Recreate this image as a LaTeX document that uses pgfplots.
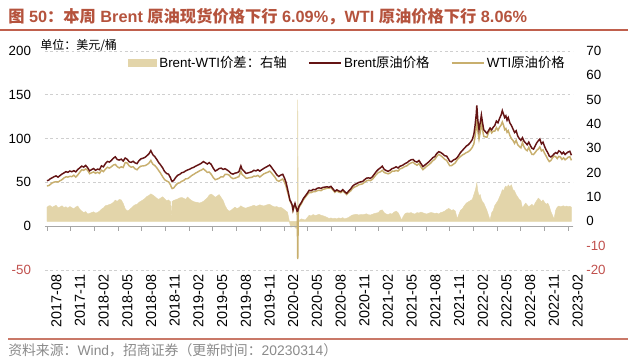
\documentclass[border=0pt]{standalone}
\usepackage{pgfplots}
\pgfplotsset{compat=1.18}
\usepackage{pgfplotstable}
\usepackage{fontspec}
\setmainfont{Liberation Sans}
\newfontfamily\cjk{Noto Sans CJK SC}
\newcommand{\zh}[1]{{\cjk #1}}
\definecolor{brentc}{HTML}{641414}
\definecolor{wtic}{HTML}{C8AF6E}
\definecolor{spreadc}{HTML}{E3D5AA}
\definecolor{titlec}{HTML}{B5533D}
\definecolor{linec}{HTML}{C0604D}
\definecolor{negc}{HTML}{C0504D}
\definecolor{gridc}{HTML}{CFCFCF}
\definecolor{footc}{HTML}{8A8A8A}

\pgfplotstableread{
x B W S
0.90 51.9 46.1 5.8
1.10 52.5 46.2 6.3
1.30 54.0 47.5 6.5
1.55 55.2 49.4 5.8
1.80 56.5 50.3 6.2
2.05 57.4 50.8 6.6
2.30 56.0 50.4 5.6
2.55 57.8 51.9 5.9
2.80 59.5 53.1 6.4
3.05 60.8 55.1 5.7
3.30 62.3 56.3 6.0
3.55 61.5 56.1 5.4
3.80 63.0 56.9 6.1
4.05 62.2 56.6 5.6
4.30 63.4 58.2 5.2
4.55 62.0 56.1 5.9
4.80 64.8 58.5 6.3
5.05 66.5 61.5 5.0
5.30 68.6 64.4 4.2
5.55 67.4 63.8 3.6
5.80 69.4 65.4 4.0
6.05 66.8 63.8 3.0
6.30 63.2 59.9 3.3
6.55 64.6 61.0 3.6
6.80 65.8 61.9 3.9
7.05 63.8 60.4 3.4
7.30 65.2 61.6 3.6
7.55 64.5 60.3 4.2
7.80 68.9 63.9 5.0
8.05 67.8 62.3 5.5
8.30 71.5 65.1 6.4
8.55 73.9 67.3 6.6
8.80 73.2 66.3 6.9
9.05 75.0 67.8 7.2
9.30 77.6 69.8 7.8
9.55 79.2 70.5 8.7
9.80 76.1 67.9 8.2
10.05 75.5 66.5 9.0
10.30 76.6 67.8 8.8
10.55 74.4 67.0 7.4
10.80 77.8 72.6 5.2
11.05 76.5 72.2 4.3
11.30 73.6 69.0 4.6
11.55 72.8 67.4 5.4
11.80 74.1 67.9 6.2
12.05 72.3 65.5 6.8
12.30 71.4 64.4 7.0
12.55 74.8 67.0 7.8
12.80 76.9 68.6 8.3
13.05 77.6 68.8 8.8
13.30 78.5 69.1 9.4
13.55 80.4 70.2 10.2
13.80 82.5 71.9 10.6
14.05 86.3 75.0 11.3
14.30 81.6 70.8 10.8
14.55 79.5 69.3 10.2
14.80 76.2 66.7 9.5
15.05 72.5 63.5 9.0
15.30 69.8 60.2 9.6
15.55 66.5 56.4 10.1
15.80 62.3 53.1 9.2
16.05 60.1 51.6 8.5
16.30 59.4 50.6 8.8
16.55 55.0 47.0 8.0
16.65 52.5 44.5 1.5
16.75 51.0 43.0 8.2
16.95 52.3 43.7 8.6
17.20 55.6 46.7 8.9
17.45 58.2 49.0 9.2
17.70 59.1 49.5 9.6
17.95 61.0 51.2 9.8
18.20 61.6 52.1 9.5
18.45 63.1 54.1 9.0
18.70 64.2 54.2 10.0
18.95 65.0 55.8 9.2
19.20 66.3 57.7 8.6
19.45 67.1 59.0 8.1
19.70 68.4 60.5 7.9
19.95 69.5 61.7 7.8
20.20 70.6 63.1 7.5
20.45 71.9 64.1 7.8
20.70 73.8 65.6 8.2
20.95 72.4 63.5 8.9
21.20 71.0 61.4 9.6
21.45 72.6 61.8 10.8
21.70 70.4 59.2 11.2
21.95 66.2 55.6 10.6
22.20 63.0 53.1 9.9
22.45 64.2 53.8 10.4
22.70 65.8 54.8 11.0
22.95 66.3 56.5 9.8
23.20 64.8 56.2 8.6
23.45 65.6 59.1 6.5
23.70 64.2 59.2 5.0
23.95 62.6 58.4 4.2
24.20 60.2 55.7 4.5
24.45 59.5 54.3 5.2
24.70 60.6 54.8 5.8
24.95 61.0 55.7 5.3
25.20 62.2 56.6 5.6
25.45 68.8 62.4 6.4
25.60 65.0 59.0 6.0
25.85 62.8 57.2 5.6
26.10 60.3 54.9 5.4
26.35 60.8 55.0 5.8
26.60 61.5 55.5 6.0
26.85 62.2 55.9 6.3
27.10 63.8 57.2 6.6
27.35 63.1 56.9 6.2
27.60 64.4 58.0 6.4
27.85 62.9 56.1 6.8
28.10 64.5 58.0 6.5
28.35 66.0 59.7 6.3
28.60 67.3 60.7 6.6
28.85 68.5 61.6 6.9
29.10 69.8 62.8 7.0
29.25 68.2 61.6 6.6
29.50 65.0 58.8 6.2
29.75 62.0 56.1 5.9
30.00 58.6 52.5 6.1
30.25 56.8 51.2 5.6
30.50 58.4 52.6 5.8
30.75 59.2 53.9 5.3
30.95 55.5 50.7 4.8
31.15 50.5 46.3 4.2
31.35 43.0 39.2 3.8
31.50 36.5 35.0 1.5
31.65 30.0 29.0 -1.0
31.80 27.5 26.5 -2.5
31.95 24.0 23.5 -2.0
32.05 18.5 18.0 -1.5
32.15 22.0 21.5 -2.0
32.30 26.0 24.5 -2.5
32.45 21.0 20.0 -3.0
32.58 17.0 16.5 -2.0
32.65 17.4 -37.6 50.0
32.72 20.5 18.0 -1.0
32.85 23.5 22.0 0.5
33.10 27.0 25.5 1.0
33.35 31.5 30.0 0.8
33.60 34.5 33.0 0.5
33.85 37.5 36.0 1.5
34.10 41.0 38.5 2.5
34.35 40.5 38.2 2.2
34.60 42.0 39.5 2.8
34.85 41.6 39.4 2.4
35.10 43.2 40.6 2.6
35.35 43.8 41.0 2.9
35.60 43.1 40.6 2.5
35.85 44.4 42.1 2.3
36.10 44.6 42.6 2.0
36.35 45.0 43.4 1.6
36.60 44.5 43.3 1.2
36.85 45.5 44.1 1.4
37.10 42.6 41.5 1.1
37.35 40.0 38.7 1.3
37.60 41.5 40.5 1.0
37.85 40.2 38.8 1.4
38.10 39.5 38.3 1.2
38.35 41.8 40.3 1.5
38.60 39.3 38.3 1.0
38.85 37.5 36.2 1.3
39.10 40.2 38.6 1.6
39.35 42.5 40.3 2.2
39.60 45.8 43.2 2.6
39.85 47.6 44.8 2.8
40.10 48.5 45.6 2.9
40.35 49.8 47.2 2.6
40.60 50.6 47.8 2.8
40.85 51.0 48.3 2.7
41.10 53.0 50.1 2.9
41.35 54.8 51.7 3.1
41.60 55.2 52.5 2.7
41.85 54.6 52.0 2.6
42.10 56.4 53.5 2.9
42.35 59.5 56.3 3.2
42.60 62.5 59.1 3.4
42.85 64.8 61.2 3.6
43.10 66.5 62.0 4.5
43.35 68.5 63.8 4.7
43.60 64.8 61.3 3.5
43.85 63.5 60.5 3.0
44.10 62.6 59.8 2.8
44.35 64.0 60.8 3.2
44.60 65.8 62.8 3.0
44.85 66.5 62.7 3.8
45.10 67.8 63.6 4.2
45.35 66.5 62.9 3.6
45.60 68.5 65.5 2.0
45.80 69.0 66.0 0.5
46.00 70.0 67.0 2.0
46.25 71.5 68.3 3.2
46.50 72.6 69.1 3.5
46.75 74.5 71.1 3.4
47.00 75.8 72.2 3.6
47.25 76.2 73.0 3.2
47.50 74.0 71.0 3.0
47.75 73.2 69.6 3.6
48.00 75.0 71.6 3.4
48.25 71.5 67.7 3.8
48.50 68.0 64.5 3.5
48.75 69.8 66.6 3.2
49.00 71.6 68.6 3.0
49.25 73.5 70.1 3.4
49.50 75.8 72.2 3.6
49.75 78.2 74.7 3.5
50.00 79.5 76.3 3.2
50.25 83.0 79.6 3.4
50.50 85.0 82.0 3.0
50.75 84.2 80.6 3.6
51.00 82.5 78.7 3.8
51.25 80.5 76.3 4.2
51.50 80.0 75.2 4.8
51.75 76.5 71.2 5.3
51.90 74.0 69.0 5.0
52.10 73.5 69.0 4.5
52.35 75.5 70.7 4.8
52.60 76.5 72.3 4.2
52.85 78.5 76.0 1.0
53.00 80.5 77.5 2.5
53.25 84.0 79.5 4.5
53.50 86.5 81.3 5.2
53.75 89.0 82.5 6.5
54.00 91.5 84.0 7.5
54.25 93.0 85.0 8.0
54.50 95.5 87.0 8.5
54.75 99.0 90.0 9.0
54.95 105.0 94.0 11.0
55.10 115.0 102.5 12.5
55.25 128.0 113.5 14.5
55.32 138.0 122.0 15.8
55.45 121.0 108.5 12.5
55.60 110.0 99.5 10.5
55.75 118.0 107.0 11.0
55.90 127.0 118.0 9.0
56.05 118.0 110.0 8.0
56.20 110.0 102.5 7.5
56.40 108.0 102.0 6.0
56.60 106.0 101.5 4.5
56.80 109.0 106.5 2.5
57.00 112.0 111.0 0.5
57.20 110.0 106.5 3.5
57.40 113.0 108.5 4.5
57.60 115.0 108.5 6.5
57.80 120.0 112.5 7.5
58.00 118.0 109.5 8.5
58.20 123.0 113.0 10.0
58.40 127.0 115.5 11.5
58.55 132.0 119.0 13.0
58.70 128.0 115.5 12.5
58.85 124.0 110.2 13.8
59.00 126.0 111.5 14.5
59.15 121.0 107.2 13.8
59.30 124.0 109.0 15.0
59.50 118.0 103.8 14.2
59.70 115.0 100.0 15.0
59.90 111.0 98.0 13.0
60.10 107.0 94.5 12.5
60.30 109.0 98.0 11.0
60.50 103.0 93.0 10.0
60.70 100.0 91.0 9.0
60.90 98.0 89.5 8.5
61.10 101.0 95.5 5.5
61.30 97.0 90.5 6.5
61.50 95.0 87.5 7.5
61.70 93.0 86.2 6.8
61.90 96.0 90.0 6.0
62.10 92.0 85.5 6.5
62.30 89.0 82.0 7.0
62.50 88.0 81.8 6.2
62.70 91.5 84.0 7.5
62.90 95.0 86.5 8.5
63.10 97.5 88.0 9.5
63.30 99.5 90.5 9.0
63.50 94.0 86.0 8.0
63.70 96.0 87.2 8.8
63.90 91.0 83.2 7.8
64.10 87.0 80.0 7.0
64.30 84.0 76.5 7.5
64.50 80.0 73.8 6.2
64.70 79.0 75.0 4.0
64.90 80.5 78.0 2.5
65.10 82.5 80.0 1.0
65.30 84.0 79.5 4.5
65.50 83.0 77.2 5.8
65.70 86.0 79.7 6.3
65.90 85.0 79.0 6.0
66.10 82.5 76.3 6.2
66.30 84.5 78.1 6.4
66.50 81.8 75.8 6.0
66.70 83.5 77.2 6.3
66.90 84.8 78.8 6.0
67.10 85.5 79.3 6.2
67.30 81.0 75.2 5.8
}\oil

\begin{document}
\begin{tikzpicture}
\path[use as bounding box] (0pt,0pt) rectangle (480pt,270pt);
\node[anchor=west, inner sep=0pt, font=\fontsize{12.2}{14}\selectfont\bfseries, text=titlec] at (6pt,257.25pt) {\zh{图} 50\zh{：本周} Brent \zh{原油现货价格下行} 6.09\%\zh{，}WTI \zh{原油价格下行} 8.06\%};
\draw[linec, line width=1.1pt] (0pt,247.5pt) -- (471pt,247.5pt);
\node[anchor=west, inner sep=0pt, font=\fontsize{9}{10}\selectfont\cjk] at (30pt,236.25pt) {单位：美元/桶};

\begin{axis}[at={(33.75pt,67.5pt)}, anchor=south west, scale only axis,
  width=396pt, height=164.25pt,
  xmin=0.65, xmax=67.5, ymin=-20, ymax=70,
  axis y line*=right, axis x line=none, xtick=\empty,
  ytick={-20,-10,0,10,20,30,40,50,60,70},
  yticklabels={\textcolor{negc}{-20},\textcolor{negc}{-10},0,10,20,30,40,50,60,70},
  axis line style={draw=none}, major tick length=0pt,
  yticklabel style={font=\fontsize{10}{12}\selectfont, xshift=6.5pt},
  /pgf/number format/assume math mode=true]
\addplot[fill=spreadc, draw=spreadc, line width=0.3pt] table[x=x,y=S]{\oil} \closedcycle;
\end{axis}

\begin{axis}[at={(33.75pt,67.5pt)}, anchor=south west, scale only axis,
  width=396pt, height=164.25pt,
  xmin=0.65, xmax=67.5, ymin=-50, ymax=200,
  axis line style={draw=none}, major tick length=0pt,
  ytick={-50,0,50,100,150,200},
  yticklabels={\textcolor{negc}{-50},0,50,100,150,200},
  yticklabel style={font=\fontsize{10}{12}\selectfont, xshift=-7pt},
  xtick={0.9,3.9,6.9,9.9,12.9,15.9,18.9,21.9,24.9,27.9,30.9,33.9,36.9,39.9,42.9,45.9,48.9,51.9,54.9,57.9,60.9,63.9,66.9},
  xticklabels={2017-08,2017-11,2018-02,2018-05,2018-08,2018-11,2019-02,2019-05,2019-08,2019-11,2020-02,2020-05,2020-08,2020-11,2021-02,2021-05,2021-08,2021-11,2022-02,2022-05,2022-08,2022-11,2023-02},
  xticklabel style={font=\fontsize{10.8}{12}\selectfont, rotate=90, anchor=east, yshift=-7pt},
  ymajorgrids, grid style={gridc, dash pattern=on 2pt off 2pt, line width=0.5pt},
  /pgf/number format/assume math mode=true,
  legend columns=3,
  legend style={draw=none, fill=none, at={(0.157,0.945)}, anchor=west,
    font=\fontsize{10}{12}\selectfont, inner sep=0pt,
    /tikz/every even column/.append style={column sep=14pt}},
  legend image code/.code={\draw[#1] (0pt,0pt) -- (24pt,0pt);}]
\addlegendimage{legend image code/.code={\fill[spreadc] (0pt,-2.6pt) rectangle (21pt,2.6pt);}}
\addlegendentry{Brent-WTI\zh{价差：右轴}}
\addlegendimage{brentc, line width=1.1pt}
\addlegendentry{Brent\zh{原油价格}}
\addlegendimage{wtic, line width=1.1pt}
\addlegendentry{WTI\zh{原油价格}}
\draw[gray!70, line width=0.6pt] (axis cs:0.65,0) -- (axis cs:67.5,0);
\pgfplotsinvokeforeach{0.9,3.9,6.9,9.9,12.9,15.9,18.9,21.9,24.9,27.9,30.9,33.9,36.9,39.9,42.9,45.9,48.9,51.9,54.9,57.9,60.9,63.9,66.9}{
  \draw[gray!70, line width=0.6pt] (axis cs:#1,0) -- ++(0pt,-3.5pt);
}
\addplot[wtic, line width=1.1pt, forget plot] table[x=x,y=W]{\oil};
\addplot[brentc, line width=1.1pt, forget plot] table[x=x,y=B]{\oil};
\end{axis}

\draw[linec!85, line width=1.1pt] (6pt,15.75pt) -- (471pt,15.75pt);
\node[anchor=west, inner sep=0pt, font=\fontsize{10.4}{12}\selectfont, text=footc] at (6pt,7.5pt) {\zh{资料来源：}Wind\zh{，招商证券（更新时间：}20230314\zh{）}};
\end{tikzpicture}
\end{document}
